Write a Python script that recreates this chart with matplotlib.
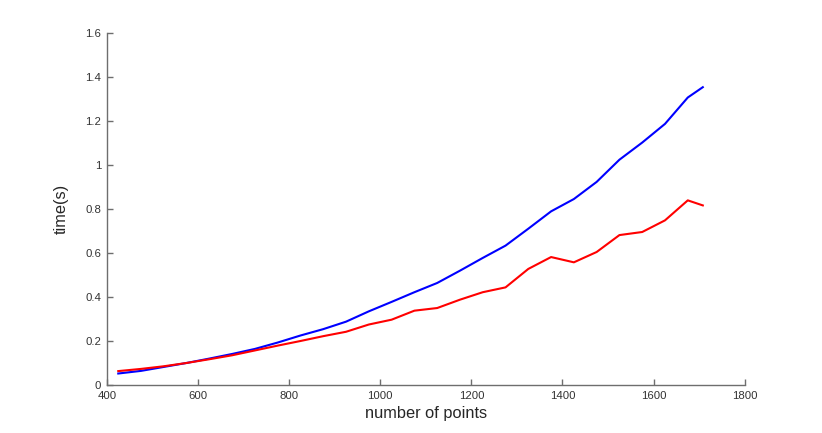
import matplotlib.pyplot as plt

plt.rcParams['font.family'] = ['Liberation Sans', 'DejaVu Sans']

# Data
n_points = [425, 475, 525, 575, 625, 675, 725, 775, 825, 875, 925, 975, 1025,
            1075, 1125, 1175, 1225, 1275, 1325, 1375, 1425, 1475, 1525, 1575,
            1625, 1675, 1708]
time_blue = [0.050, 0.062, 0.080, 0.098, 0.118, 0.139, 0.162, 0.191, 0.223,
             0.252, 0.286, 0.333, 0.376, 0.420, 0.462, 0.518, 0.576, 0.632,
             0.709, 0.788, 0.844, 0.922, 1.023, 1.101, 1.186, 1.306, 1.353]
time_red = [0.061, 0.071, 0.083, 0.098, 0.115, 0.133, 0.155, 0.177, 0.198,
            0.220, 0.240, 0.273, 0.295, 0.336, 0.348, 0.386, 0.420, 0.442,
            0.526, 0.580, 0.556, 0.603, 0.680, 0.694, 0.747, 0.838, 0.815]

x_ticks = [400, 600, 800, 1000, 1200, 1400, 1600, 1800]
y_ticks = [0, 0.2, 0.4, 0.6, 0.8, 1.0, 1.2, 1.4, 1.6]
y_ticklabels = ['0', '0.2', '0.4', '0.6', '0.8', '1', '1.2', '1.4', '1.6']


def main():
    fig = plt.figure(figsize=(8.22, 4.33), dpi=100)
    ax = fig.add_axes([0.130, 0.112, 0.776, 0.812])

    ax.plot(n_points, time_blue, color=(0, 0, 1), linewidth=1.5)
    ax.plot(n_points, time_red, color=(1, 0, 0), linewidth=1.5)

    ax.set_xlim(400, 1800)
    ax.set_ylim(0, 1.6)
    ax.set_xticks(x_ticks)
    ax.set_yticks(y_ticks)
    ax.set_yticklabels(y_ticklabels)

    for side in ['top', 'right']:
        ax.spines[side].set_visible(False)
    for side in ['left', 'bottom']:
        ax.spines[side].set_color('#6e6e6e')
        ax.spines[side].set_linewidth(1.0)
    ax.tick_params(direction='in', length=4.5, width=1.0, color='#6e6e6e',
                   labelsize=8.2, labelcolor='#333333')
    ax.tick_params(axis='x', pad=5)
    ax.tick_params(axis='y', pad=4)

    ax.set_xlabel('number of points', fontsize=11.8, color='#262626', labelpad=3)
    ax.set_ylabel('time(s)', fontsize=11.8, color='#262626', labelpad=12)

    fig.savefig('out.png', dpi=100)


if __name__ == "__main__":
    main()
